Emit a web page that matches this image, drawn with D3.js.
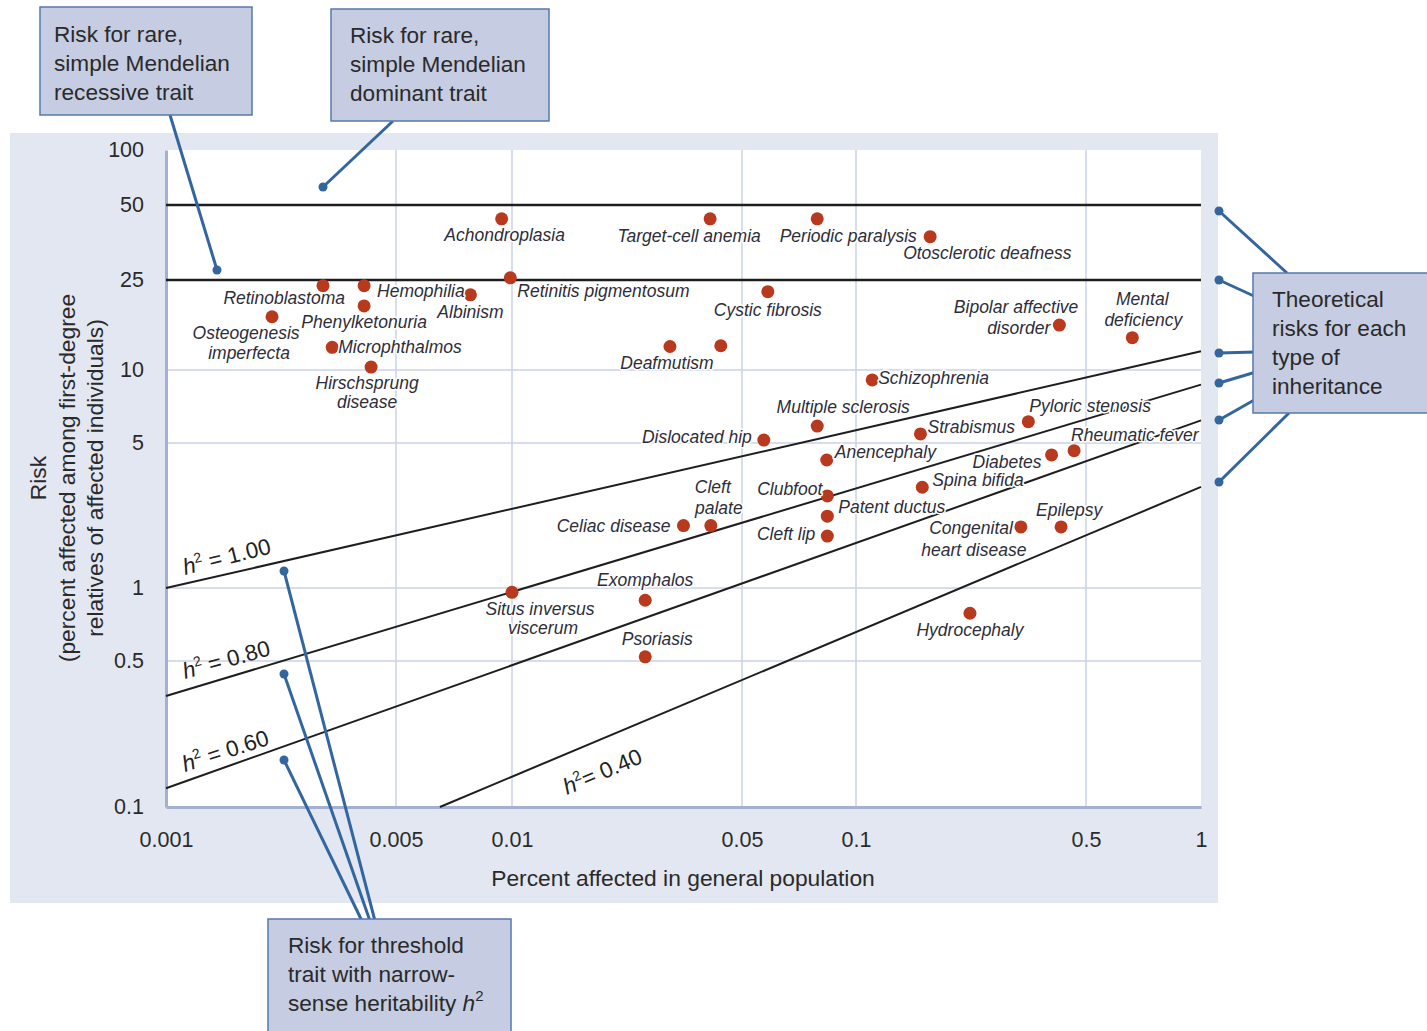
<!DOCTYPE html>
<html>
<head>
<meta charset="utf-8">
<script src="https://cdn.jsdelivr.net/npm/d3@7"></script>
<style>
  body { margin: 0; background: #fff; }
  text { font-family: "Liberation Sans", Arial, sans-serif; }
  .lbl { font-style: italic; font-size: 17.5px; fill: #2e2e3a;
         paint-order: stroke; stroke: #fff; stroke-width: 3px; stroke-linejoin: round; }
  .note { font-size: 22.6px; fill: #2a2a2a; }
</style>
</head>
<body>
<svg id="chart" width="1427" height="1031"></svg>
<script>
// disease data (percent in population, percent risk to first-degree relatives)
var diseases = ["Achondroplasia", "Target-cell anemia", "Periodic paralysis", "Otosclerotic deafness",
  "Retinoblastoma", "Hemophilia", "Phenylketonuria", "Albinism", "Osteogenesis imperfecta",
  "Microphthalmos", "Hirschsprung disease", "Retinitis pigmentosum", "Cystic fibrosis",
  "Deafmutism", "Deafmutism", "Schizophrenia", "Bipolar affective disorder", "Mental deficiency",
  "Pyloric stenosis", "Multiple sclerosis", "Dislocated hip", "Anencephaly", "Clubfoot",
  "Patent ductus", "Cleft lip", "Celiac disease", "Cleft palate", "Exomphalos", "Psoriasis",
  "Situs inversus viscerum", "Strabismus", "Diabetes", "Rheumatic fever", "Spina bifida",
  "Congenital heart disease", "Epilepsy", "Hydrocephaly"];
var population = [0.0094, 0.040, 0.079, 0.168,
  0.0030, 0.0040, 0.0040, 0.0078, 0.0021,
  0.0032, 0.0042, 0.0099, 0.0585,
  0.0302, 0.0431, 0.112, 0.415, 0.661,
  0.334, 0.079, 0.0571, 0.0837, 0.084,
  0.084, 0.084, 0.0332, 0.0402, 0.0254, 0.0254,
  0.010, 0.157, 0.393, 0.460, 0.159,
  0.317, 0.420, 0.222];
var risk = [44, 44, 44, 37.3,
  23.6, 23.6, 19.2, 21.5, 17.2,
  12.6, 10.3, 25.5, 22.2,
  12.7, 12.8, 9.1, 15.8, 13.9,
  6.12, 5.87, 5.14, 4.14, 2.78,
  2.22, 1.78, 2.0, 2.0, 0.89, 0.52,
  0.96, 5.45, 4.38, 4.59, 3.06,
  1.97, 1.97, 0.787];

var popTicks = [0.001, 0.005, 0.01, 0.05, 0.1, 0.5, 1];
var riskTicks = [0.1, 0.5, 1, 5, 10, 25, 50, 100];
var popGrid = [0.005, 0.01, 0.05, 0.1, 0.5];
var riskGrid = [10, 5, 1, 0.5];
var mendelianRisk = [50, 25];

// threshold-trait curves: heritability, start point and end point (pop, risk)
var heritability = ["1.00", "0.80", "0.60", "0.40"];
var h2Start = [[0.001, 1.0], [0.001, 0.34], [0.001, 0.123], [0.0065, 0.1]];
var h2End = [[1, 12.1], [1, 8.7], [1, 6.2], [1, 3.07]];

// label placement: [text, anchor, dx, dy]
var labelLayout = {
  "Achondroplasia": [["Achondroplasia", "middle", 3, 16]],
  "Target-cell anemia": [["Target-cell anemia", "middle", -21, 17]],
  "Periodic paralysis": [["Periodic paralysis", "middle", 31, 17]],
  "Otosclerotic deafness": [["Otosclerotic deafness", "start", -27, 16]],
  "Retinoblastoma": [["Retinoblastoma", "end", 22, 12]],
  "Hemophilia": [["Hemophilia", "start", 13, 5]],
  "Phenylketonuria": [["Phenylketonuria", "middle", 0, 16]],
  "Albinism": [["Albinism", "middle", 0, 17]],
  "Osteogenesis imperfecta": [["Osteogenesis", "middle", -26, 16], ["imperfecta", "middle", -23, 36]],
  "Microphthalmos": [["Microphthalmos", "start", 6, 0]],
  "Hirschsprung disease": [["Hirschsprung", "middle", -4, 16], ["disease", "middle", -4, 35]],
  "Retinitis pigmentosum": [["Retinitis pigmentosum", "start", 7, 13]],
  "Cystic fibrosis": [["Cystic fibrosis", "middle", 0, 18]],
  "Deafmutism": [["Deafmutism", "middle", -3, 16]],
  "Schizophrenia": [["Schizophrenia", "start", 6, -2]],
  "Bipolar affective disorder": [["Bipolar affective", "end", 19, -18], ["disorder", "end", -9, 3]],
  "Mental deficiency": [["Mental", "middle", 10, -39], ["deficiency", "middle", 11, -18]],
  "Pyloric stenosis": [["Pyloric stenosis", "start", 1, -16]],
  "Multiple sclerosis": [["Multiple sclerosis", "middle", 26, -19]],
  "Dislocated hip": [["Dislocated hip", "end", -12, -3]],
  "Anencephaly": [["Anencephaly", "start", 8, -8]],
  "Clubfoot": [["Clubfoot", "end", -5, -7]],
  "Patent ductus": [["Patent ductus", "start", 11, -9]],
  "Cleft lip": [["Cleft lip", "end", -12, -2]],
  "Celiac disease": [["Celiac disease", "end", -13, 0]],
  "Cleft palate": [["Cleft", "middle", 2, -39], ["palate", "middle", 8, -18]],
  "Exomphalos": [["Exomphalos", "middle", 0, -20]],
  "Psoriasis": [["Psoriasis", "middle", 12, -18]],
  "Situs inversus viscerum": [["Situs inversus", "middle", 28, 17], ["viscerum", "middle", 31, 36]],
  "Strabismus": [["Strabismus", "start", 7, -7]],
  "Diabetes": [["Diabetes", "end", -10, 7]],
  "Rheumatic fever": [["Rheumatic fever", "start", -3, -16]],
  "Spina bifida": [["Spina bifida", "start", 10, -7]],
  "Congenital heart disease": [["Congenital", "end", -8, 1], ["heart disease", "middle", -47, 23]],
  "Epilepsy": [["Epilepsy", "middle", 8, -17]],
  "Hydrocephaly": [["Hydrocephaly", "middle", 0, 17]]
};

var svg = d3.select("#chart");

var x = d3.scaleLog().domain(popTicks).range([166, 396, 512, 742, 856, 1086, 1201]);
var y = d3.scaleLog().domain(riskTicks).range([807, 661, 588, 443, 370, 280, 205, 150]);

// background panel + plot area
svg.append("rect").attr("x", 10).attr("y", 133).attr("width", 1208).attr("height", 770)
  .attr("fill", "#e3e7f1");
svg.append("rect").attr("x", x(0.001)).attr("y", y(100))
  .attr("width", x(1) - x(0.001)).attr("height", y(0.1) - y(100))
  .attr("fill", "#fff");

// grid
svg.append("g").selectAll("line").data(popGrid).enter().append("line")
  .attr("x1", x).attr("x2", x).attr("y1", y(100)).attr("y2", y(0.1))
  .attr("stroke", "#cbd2e7").attr("stroke-width", 1.5);
svg.append("g").selectAll("line").data(riskGrid).enter().append("line")
  .attr("x1", x(0.001)).attr("x2", x(1)).attr("y1", y).attr("y2", y)
  .attr("stroke", "#cbd2e7").attr("stroke-width", 1.5);

// axes
var xAxis = svg.append("g")
  .attr("transform", "translate(0," + y(0.1) + ")")
  .call(d3.axisBottom(x).tickValues(popTicks).tickFormat(d3.format("~g")).tickSize(0).tickPadding(25));
var yAxis = svg.append("g")
  .attr("transform", "translate(" + x(0.001) + ",0)")
  .call(d3.axisLeft(y).tickValues(riskTicks).tickFormat(d3.format("~g")).tickSize(0).tickPadding(22));
[xAxis, yAxis].forEach(function(g) {
  g.select(".domain").attr("stroke", "#a4b0d2").attr("stroke-width", 3);
  g.selectAll("text").attr("font-size", 21.5).attr("fill", "#2a2a2a")
    .attr("font-family", "'Liberation Sans', Arial, sans-serif");
});

// axis titles
svg.append("text").attr("x", 683).attr("y", 886).attr("text-anchor", "middle")
  .attr("font-size", 22.8).attr("fill", "#2a2a2a").text("Percent affected in general population");
var yTitle = svg.append("text").attr("transform", "translate(46,478) rotate(-90)")
  .attr("text-anchor", "middle").attr("font-size", 22.8).attr("fill", "#2a2a2a");
["Risk", "(percent affected among first-degree", "relatives of affected individuals)"].forEach(function(t, i) {
  yTitle.append("tspan").attr("x", 0).attr("dy", i ? 28.5 : 0).text(t);
});

// Mendelian risk lines
svg.append("g").selectAll("line").data(mendelianRisk).enter().append("line")
  .attr("x1", x(0.001)).attr("x2", x(1)).attr("y1", y).attr("y2", y)
  .attr("stroke", "#1e1e1e").attr("stroke-width", 2.5);

// threshold trait lines
svg.append("g").selectAll("line").data(heritability).enter().append("line")
  .attr("x1", function(d, i) { return x(h2Start[i][0]); })
  .attr("y1", function(d, i) { return y(h2Start[i][1]); })
  .attr("x2", function(d, i) { return x(h2End[i][0]); })
  .attr("y2", function(d, i) { return y(h2End[i][1]); })
  .attr("stroke", "#1e1e1e").attr("stroke-width", 2);

// h2 labels: [x, y, angle]
var h2LabelPos = [[185, 575, -14], [185, 679, -15.5], [185, 772, -18], [567, 795, -23]];
heritability.forEach(function(h, i) {
  var p = h2LabelPos[i];
  var t = svg.append("text").attr("transform", "translate(" + p[0] + "," + p[1] + ") rotate(" + p[2] + ")")
    .attr("font-size", 22.5).attr("fill", "#222");
  t.append("tspan").attr("font-style", "italic").text("h");
  t.append("tspan").attr("font-size", 14).attr("dy", -9).text("2");
  t.append("tspan").attr("dy", 9).text((i === 3 ? "= " : " = ") + h);
});

// disease points
var rows = diseases.map(function(d, i) { return { name: d, pop: population[i], risk: risk[i] }; });
svg.append("g").selectAll("circle").data(rows).enter().append("circle")
  .attr("cx", function(d) { return x(d.pop); })
  .attr("cy", function(d) { return y(d.risk); })
  .attr("r", 6.5).attr("fill", "#b8391d");

var seen = {};
var lblG = svg.append("g");
rows.forEach(function(d) {
  if (seen[d.name]) return;
  seen[d.name] = true;
  labelLayout[d.name].forEach(function(l) {
    lblG.append("text").attr("class", "lbl")
      .attr("x", x(d.pop) + l[2]).attr("y", y(d.risk) + l[3]).attr("dy", "0.35em")
      .attr("text-anchor", l[1]).text(l[0]);
  });
});

// callouts
var leaders = [
  [[170, 115], [217, 270]], [[393, 121], [323, 187]],
  [[1287, 273], [1219, 211]], [[1256, 297], [1219, 280]], [[1256, 352], [1219, 353]],
  [[1256, 372], [1219, 383]], [[1256, 399], [1219, 420]], [[1289, 413], [1219, 482]],
  [[375, 921], [284, 571]], [[370, 921], [284, 674]], [[362, 921], [284, 760]]
];
var callG = svg.append("g");
callG.selectAll("line").data(leaders).enter().append("line")
  .attr("x1", function(d) { return d[0][0]; }).attr("y1", function(d) { return d[0][1]; })
  .attr("x2", function(d) { return d[1][0]; }).attr("y2", function(d) { return d[1][1]; })
  .attr("stroke", "#33669f").attr("stroke-width", 3);
callG.selectAll("circle").data(leaders).enter().append("circle")
  .attr("cx", function(d) { return d[1][0]; }).attr("cy", function(d) { return d[1][1]; })
  .attr("r", 4.5).attr("fill", "#33669f");

var notes = [
  { box: [40, 7, 212, 108], tx: 54, ty: 42, lines: ["Risk for rare,", "simple Mendelian", "recessive trait"] },
  { box: [331, 9, 218, 112], tx: 350, ty: 43, lines: ["Risk for rare,", "simple Mendelian", "dominant trait"] },
  { box: [1253, 273, 180, 140], tx: 1272, ty: 307, lines: ["Theoretical", "risks for each", "type of", "inheritance"] },
  { box: [268, 919, 243, 120], tx: 288, ty: 953, lines: ["Risk for threshold", "trait with narrow-", "sense heritability "] }
];
notes.forEach(function(n, k) {
  svg.append("rect").attr("x", n.box[0]).attr("y", n.box[1]).attr("width", n.box[2]).attr("height", n.box[3])
    .attr("fill", "#c6cde2").attr("stroke", "#5578ad").attr("stroke-width", 1.5);
  n.lines.forEach(function(l, i) {
    var t = svg.append("text").attr("class", "note").attr("x", n.tx).attr("y", n.ty + i * 29).text(l);
    if (k === 3 && i === 2) {
      t.append("tspan").attr("font-style", "italic").text("h");
      t.append("tspan").attr("font-size", 15).attr("dy", -10).text("2");
    }
  });
});
</script>
</body>
</html>
